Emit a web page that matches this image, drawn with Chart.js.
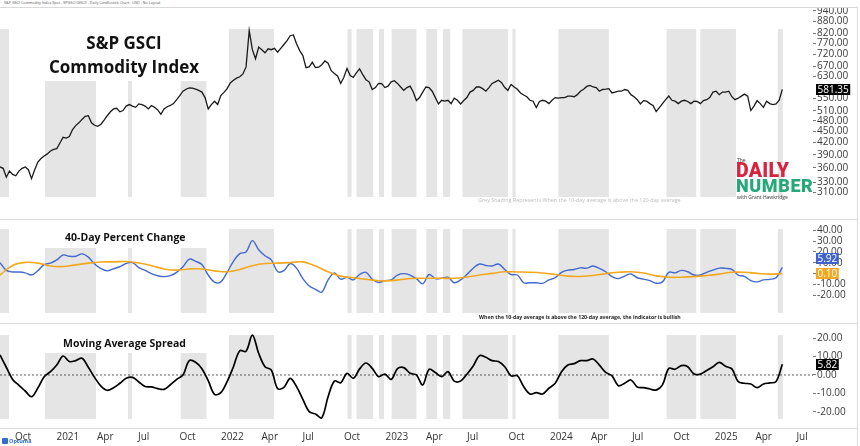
<!DOCTYPE html>
<html><head><meta charset="utf-8">
<script src="https://cdn.jsdelivr.net/npm/chart.js@4.4.1/dist/chart.umd.min.js"></script>
<style>
html,body{margin:0;padding:0;background:#fff;}
body{width:860px;height:446px;position:relative;overflow:hidden;font-family:'Open Sans',sans-serif;}
canvas{position:absolute;left:0;}
.t{position:absolute;white-space:nowrap;}
.sep{position:absolute;left:0;width:857px;height:0;border-top:1px solid #d9d9d9;}
</style></head><body>
<canvas id="c1" width="860" height="211" style="top:8px"></canvas>
<canvas id="c2" width="860" height="103" style="top:220px"></canvas>
<canvas id="c3" width="860" height="122" style="top:324px"></canvas>
<div class="sep" style="top:7px"></div>
<div class="sep" style="top:219px"></div>
<div class="sep" style="top:323px"></div>
<div class="sep" style="top:428px"></div>
<div style="position:absolute;left:857px;top:7px;width:0;height:439px;border-left:1px solid #d9d9d9"></div>
<div class="t" style="left:4px;top:0px;font-size:3.7px;color:#555;">S&amp;P GSCI Commodity Index Spot - SPGSCI (GSCI) - Daily Candlestick Chart - USD - No Layout</div>
<div class="t" style="left:24px;top:31px;width:200px;text-align:center;font-weight:700;font-size:17px;line-height:23.5px;color:#111;">S&amp;P GSCI<br>Commodity Index</div>
<div class="t" style="left:65px;top:230px;font-weight:700;font-size:10.5px;line-height:15px;color:#111;">40-Day Percent Change</div>
<div class="t" style="left:63px;top:336px;font-weight:700;font-size:10.5px;line-height:15px;color:#111;">Moving Average Spread</div>
<div class="t" style="left:479px;top:314px;font-weight:700;font-size:5.2px;line-height:7px;color:#222;">When the 10-day average is above the 120-day average, the indicator is bullish</div>
<div class="t" style="left:478px;top:196.5px;font-size:5.4px;line-height:7px;color:#bdbdbd;">Grey Shading Represents When the 10-day average is above the 120-day average</div>
<div class="t" style="left:737px;top:157px;font-size:5px;line-height:6px;color:#333;">The</div>
<div class="t" style="left:736px;top:160px;font-family:Roboto,sans-serif;font-weight:900;font-size:19.5px;line-height:22px;color:#d8243f;letter-spacing:0.3px;">DAILY</div>
<div class="t" style="left:736px;top:175px;font-family:Roboto,sans-serif;font-weight:900;font-size:18px;line-height:22px;color:#27a878;letter-spacing:0.6px;">NUMBER</div>
<div class="t" style="left:737px;top:194px;font-size:5px;line-height:6px;color:#333;">with Grant Hawkridge</div>
<div style="position:absolute;left:2px;top:438px;width:6px;height:6px;background:#2f6fc6;border-radius:1px"></div>
<div class="t" style="left:9px;top:438px;font-size:5.5px;line-height:7px;color:#2f6fc6;font-weight:700;">Optuma</div>
<script>
// ---------- DATA ----------
const seriesStart = '2020-08-31';
const axisEnd = '2025-08-09';
const priceStepDays = 7;   // weekly closes
const indStepDays = 14;    // indicator samples
const avgStepDays = 28;

const priceValues = [
 362,359,340,353,346,343,353,359,362,356,
 337,356,373,381,387,392,399,403,405,419,
 434,432,436,455,466,474,484,493,495,474,
 467,464,470,482,495,507,516,518,507,511,
 525,530,525,521,532,530,525,516,527,521,
 513,499,516,523,527,533,546,560,575,582,
 587,586,582,578,572,553,516,530,541,530,
 560,571,584,605,615,623,628,639,667,833,
 741,701,753,741,727,745,741,747,730,747,
 765,783,807,811,768,737,715,664,667,686,
 664,666,676,692,682,652,641,631,603,626,
 661,633,626,644,659,636,617,609,581,588,
 603,602,588,593,609,613,603,590,578,588,
 593,572,543,553,572,590,588,575,553,532,
 544,541,544,533,551,544,532,543,553,572,
 578,590,590,584,575,588,603,609,615,606,
 588,578,599,590,582,569,562,556,544,541,
 520,540,544,541,533,544,553,551,553,553,
 558,558,556,563,575,582,592,596,590,588,
 575,581,582,584,569,572,575,575,581,578,
 563,556,546,532,543,541,533,527,508,520,
 533,546,558,544,541,533,541,544,540,533,
 541,540,533,543,546,553,572,575,563,572,
 572,575,556,546,551,558,565,558,511,525,
 543,533,521,541,533,530,532,544,581.35
];

const pctChange40 = [
 10.2,3.1,1.6,1.6,0.8,-1.2,2.8,8.4,9.7,12.7,
 17.2,16.0,16.0,18.2,15.2,8.9,4.6,2.6,4.6,6.4,
 9.4,10.2,5.6,3.1,0.1,-1.9,-2.7,-1.7,1.3,6.4,
 13.4,11.4,8.4,-1.2,-7.8,-7.5,1.3,11.4,18.5,20.0,
 30.4,22.0,16.5,12.7,2.1,2.8,9.4,5.1,-4.5,-11.3,
 -14.3,-16.9,-5.7,0.8,-5.0,-3.2,-5.7,-0.7,1.3,-5.0,
 -8.0,-6.3,-5.7,-1.2,0.1,-1.2,-4.5,-9.3,-0.7,-4.5,
 -4.2,-3.2,-8.3,-5.7,-0.7,5.1,8.9,7.6,7.1,8.9,
 3.9,-0.7,-1.2,-8.3,-8.3,-8.3,-8.8,-5.7,-3.7,1.3,
 3.3,3.9,5.4,5.1,7.1,4.9,1.8,-2.7,-4.5,-2.2,
 -0.2,-3.7,-5.0,-6.3,-8.8,-7.5,1.3,0.8,3.1,1.8,
 -1.2,-1.2,1.3,3.3,5.1,4.9,3.9,-1.2,-2.5,-6.3,
 -7.5,-5.7,-5.2,-3.7,5.92
];

const pctChangeAvg = [
 -1.2,7.6,10.4,9.7,7.1,6.6,8.1,9.7,10.7,10.9,
 11.2,9.9,7.4,4.4,3.3,4.4,4.4,2.6,1.8,3.9,
 7.4,9.4,9.7,10.2,10.9,7.1,1.8,-2.2,-3.7,-5.0,
 -6.5,-6.3,-5.0,-4.2,-4.2,-4.2,-4.2,-3.0,-1.2,0.3,
 1.8,1.6,1.3,0.6,-0.7,-2.2,-2.5,-1.7,0.1,1.3,
 1.8,0.6,-2.0,-3.2,-3.2,-2.7,-1.7,-0.4,1.3,1.3,
 0.3,-0.4,0.10
];

const maSpread = [
 10.9,4.2,-2.4,-5.6,-8.7,-11.8,-7.1,-0.9,1.8,5.4,
 10.3,7.3,7.8,9.1,4.2,-1.4,-6.0,-8.3,-6.9,-4.5,
 -1.8,-1.3,-3.8,-6.3,-6.5,-7.4,-7.8,-5.3,-2.4,0,
 7.8,6.9,3.4,-3.1,-10.5,-9.6,-3.6,4.5,13.2,12.9,
 21.7,11.8,4.5,2.7,-7.4,-6.7,-1.8,-6.3,-13.2,-19.9,
 -21.2,-23.2,-11.8,-3.3,-4.2,0.9,-1.8,3.3,6.5,3.6,
 -0.9,0.5,-2.4,3.4,4.0,0.9,0,-5.4,3.1,1.3,
 -0.9,1.8,-3.3,-3.3,0.4,4.9,10.5,9.6,7.8,7.3,
 4.5,-0.5,-0.4,-6.3,-10.3,-9.6,-10.3,-7.2,-4.5,1.8,
 5.4,6.2,7.8,7.8,8.7,5.4,1.4,-0.5,-5.8,-4.5,
 -2.7,-6.5,-6.9,-7.6,-8.2,-5.4,3.6,3.1,5.1,4.5,
 0.5,0.5,2.4,4.5,6.9,4.7,3.3,-3.6,-4.5,-4.9,
 -6.9,-4.9,-4.3,-3.6,5.82
];

// periods when the 10-day average is above the 120-day average
const shadeRanges = [
 ['2020-08-31','2020-09-20'],['2020-12-09','2021-04-01'],['2021-06-11','2021-06-20'],
 ['2021-10-06','2021-12-02'],['2022-01-21','2022-05-01'],['2022-10-11','2022-10-20'],
 ['2022-10-31','2022-12-07'],['2022-12-20','2022-12-31'],['2023-01-17','2023-03-13'],
 ['2023-04-04','2023-04-28'],['2023-05-11','2023-05-27'],['2023-06-23','2023-10-02'],
 ['2023-10-12','2023-10-19'],['2024-01-22','2024-05-13'],['2024-09-18','2024-11-23'],
 ['2024-12-02','2025-02-19'],['2025-05-23','2025-06-03']
];

const xTickDates = ['2020-10-01','2021-01-01','2021-04-01','2021-07-01','2021-10-01',
 '2022-01-01','2022-04-01','2022-07-01','2022-10-01','2023-01-01','2023-04-01','2023-07-01',
 '2023-10-01','2024-01-01','2024-04-01','2024-07-01','2024-10-01','2025-01-01','2025-04-01','2025-07-01'];
const xTickLabels = ['Oct','2021','Apr','Jul','Oct','2022','Apr','Jul','Oct','2023','Apr','Jul',
 'Oct','2024','Apr','Jul','Oct','2025','Apr','Jul'];

const priceTicks = [940,880,820,770,720,670,630,550,510,480,450,420,390,360,330,310];
const pctTicks = [40,30,20,10,0,-10,-20];
const spreadTicks = [20,10,0,-10,-20];
const priceRange = [294, 956];
const pctRange = [-28.7, 49.3];
const spreadRange = [-28.8, 27.7];

const lastPrice = 581.35, lastPct = 5.92, lastAvg = 0.10, lastSpread = 5.82;

// ---------- HELPERS ----------
const DAY = 86400000;
const ORIGIN = (()=>{const [y,m,d]=seriesStart.split('-').map(Number);return Date.UTC(y,m-1,d);})();
function dayNum(s){const [y,m,d]=s.split('-').map(Number);return (Date.UTC(y,m-1,d)-ORIGIN)/DAY;}
function toPoints(vals, step){return vals.map((v,i)=>({x:i*step,y:v}));}
const X_MIN = 0, X_MAX = dayNum(axisEnd);

Chart.defaults.font.family = "'Open Sans', sans-serif";
Chart.defaults.font.size = 10;
Chart.defaults.color = '#333';

const shadePlugin = {
  id:'shade',
  beforeDatasetsDraw(chart, args, o){
    const {ctx, chartArea:a, scales:{x}} = chart;
    ctx.save();
    ctx.fillStyle = '#e5e5e5';
    const top = a.top + o.top, bot = a.top + o.bottom;
    for (const [s,e] of shadeRanges){
      const x0 = x.getPixelForValue(dayNum(s)), x1 = x.getPixelForValue(dayNum(e));
      ctx.fillRect(x0, top, Math.max(1,x1-x0), bot-top);
    }
    if (o.mask){
      ctx.fillStyle = '#fff';
      ctx.fillRect(o.mask[0], a.top+o.mask[1], o.mask[2], o.mask[3]);
    }
    ctx.restore();
  }
};
const boxPlugin = {
  id:'boxes',
  afterDraw(chart, args, o){
    const {ctx, scales:{y}} = chart;
    ctx.save();
    ctx.font = "10px 'Open Sans'";
    ctx.textBaseline = 'middle';
    let prev = null;
    for (const b of o.items){
      let py = y.getPixelForValue(b.value);
      if (prev !== null && py > prev - 15) py = prev - 15;
      prev = py;
      const txt = b.value.toFixed(2);
      const w = ctx.measureText(txt).width + 3;
      ctx.fillStyle = b.bg;
      ctx.fillRect(816, Math.round(py-5.5), w, 11);
      ctx.fillStyle = b.fg;
      ctx.fillText(txt, 817.5, py+0.5);
    }
    ctx.restore();
  }
};
Chart.register(shadePlugin, boxPlugin);

function yAxis(type, range, ticks){
  return {
    type, position:'right', min:range[0], max:range[1],
    afterBuildTicks: s => { s.ticks = ticks.map(v=>({value:v})); },
    afterFit: s => { s.width = 47; s.paddingTop = 0; s.paddingBottom = 0; },
    ticks:{ callback: v => Number(v).toFixed(2), padding:1, color:'#3a3a3a', font:{size:10}, autoSkip:false },
    grid:{ drawOnChartArea:false, drawTicks:true, tickLength:3, tickColor:'#777' },
    border:{ display:false }
  };
}
function xAxis(show){
  return {
    type:'linear', min:X_MIN, max:X_MAX, display:show,
    afterBuildTicks: s => { s.ticks = xTickDates.map(d=>({value:dayNum(d)})); },
    afterFit: s => { s.height = 18; s.paddingLeft = 0; s.paddingRight = 0; },
    ticks:{ callback:(v,i)=>xTickLabels[i], align:'start', labelOffset:1, padding:3,
            maxRotation:0, minRotation:0, autoSkip:false, color:'#333', font:{size:10} },
    grid:{ display:false, drawTicks:false },
    border:{ display:false }
  };
}
function baseOptions(extra){
  return Object.assign({
    responsive:false, animation:false, events:[],
    layout:{ padding:0 },
    elements:{ point:{ radius:0 } },
  }, extra);
}

new Chart(document.getElementById('c1'), {
  type:'line',
  data:{ datasets:[{ data:toPoints(priceValues, priceStepDays), borderColor:'#1a1a1a', borderWidth:1.3, tension:0 }] },
  options: baseOptions({
    parsing:false,
    scales:{ x:xAxis(false), y:yAxis('logarithmic', priceRange, priceTicks) },
    plugins:{ legend:{display:false}, tooltip:{enabled:false},
      shade:{ top:21, bottom:189, mask:[10,21,216,52] },
      boxes:{ items:[{value:lastPrice, bg:'#000', fg:'#fff'}] } }
  })
});

new Chart(document.getElementById('c2'), {
  type:'line',
  data:{ datasets:[
    { data:toPoints(pctChangeAvg, avgStepDays), borderColor:'#f3a81f', borderWidth:1.6, tension:0.4 },
    { data:toPoints(pctChange40, indStepDays), borderColor:'#4469cc', borderWidth:1.4, tension:0.35 }
  ]},
  options: baseOptions({
    parsing:false,
    scales:{ x:xAxis(false), y:yAxis('linear', pctRange, pctTicks) },
    plugins:{ legend:{display:false}, tooltip:{enabled:false},
      shade:{ top:9, bottom:93, mask:[10,9,216,19] },
      boxes:{ items:[{value:lastAvg, bg:'#f3a81f', fg:'#fff'},{value:lastPct, bg:'#3f63c9', fg:'#fff'}] } }
  })
});

new Chart(document.getElementById('c3'), {
  type:'line',
  data:{ datasets:[
    { data:toPoints(maSpread, indStepDays), borderColor:'#000', borderWidth:1.7, tension:0.35 },
    { data:[{x:X_MIN,y:0},{x:X_MAX,y:0}], borderColor:'#333', borderWidth:0.8, borderDash:[2,2] }
  ]},
  options: baseOptions({
    parsing:false,
    scales:{ x:xAxis(true), y:yAxis('linear', spreadRange, spreadTicks) },
    plugins:{ legend:{display:false}, tooltip:{enabled:false},
      shade:{ top:11, bottom:95, mask:[10,11,216,18] },
      boxes:{ items:[{value:lastSpread, bg:'#000', fg:'#fff'}] } }
  })
});
</script>
</body></html>
